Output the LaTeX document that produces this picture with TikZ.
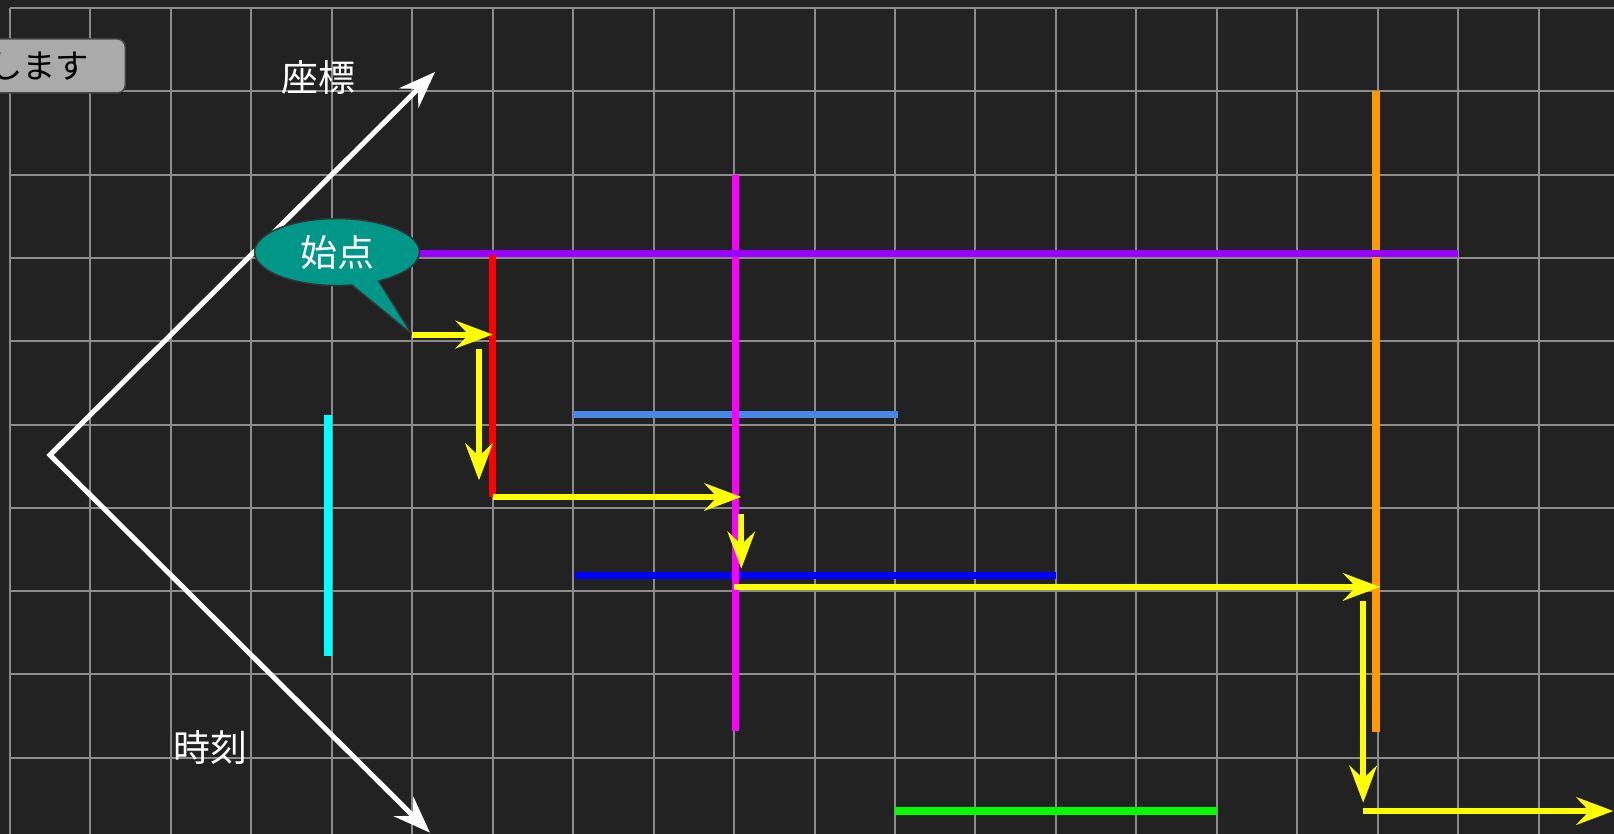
\documentclass[tikz,border=0pt]{standalone}
\usepackage{fontspec}
\newfontfamily\jpfont{Noto Sans CJK JP}
\usetikzlibrary{arrows.meta,shapes.callouts}

\definecolor{bg}{HTML}{222222}
\definecolor{gridgray}{HTML}{8C8C8C}
\definecolor{barpurple}{HTML}{9900FF}
\definecolor{barmagenta}{HTML}{FF00FF}
\definecolor{barorange}{HTML}{FF9900}
\definecolor{barred}{HTML}{FF0000}
\definecolor{barlightblue}{HTML}{4A86E8}
\definecolor{barblue}{HTML}{0000FF}
\definecolor{barcyan}{HTML}{00FFFF}
\definecolor{bargreen}{HTML}{00FF00}
\definecolor{walkyellow}{HTML}{FFFF00}
\definecolor{bubbleteal}{HTML}{009688}
\definecolor{bubbleedge}{HTML}{333333}
\definecolor{btngray}{HTML}{AAAAAA}
\definecolor{btnedge}{HTML}{444444}

\begin{document}
\begin{tikzpicture}[x=1.609cm, y=-1.666cm,
    >={Stealth[length=0.74cm, width=0.55cm, inset=0.26cm]},
    gridline/.style={draw=gridgray, line width=0.04cm},
    bar/.style={line width=0.15cm},
    walk/.style={->, walkyellow, line width=0.12cm},
    axis/.style={<->, white, line width=0.1cm},
    jplabel/.style={font=\jpfont\fontsize{21}{25}\selectfont, text=white},
    button/.style={fill=btngray, draw=btnedge, line width=0.03cm, rounded corners=0.16cm,
      font=\jpfont\fontsize{19}{23}\selectfont, text=black,
      minimum height=1.08cm, inner xsep=0.72cm, inner ysep=0pt}]

    \path[use as bounding box, fill=bg] (-0.1243,-0.096) rectangle (19.938,9.916);
    \clip (-0.1243,-0.096) rectangle (19.938,9.916);

    % grid
    \foreach \i in {0,...,19}
      \draw[gridline] (\i,0) -- (\i,10);
    \foreach \j in {0,...,9}
      \draw[gridline] (0,\j) -- (20,\j);

    % coloured bars
    \draw[bar, barlightblue] (7,4.88) -- (11.04,4.88);
    \draw[bar, barblue] (7.02,6.81) -- (13,6.81);
    \draw[bar, barmagenta] (9.02,2) -- (9.02,8.68);
    \draw[bar, barorange] (16.98,1) -- (16.98,8.69);
    \draw[bar, barpurple] (5,2.95) -- (18,2.95);
    \draw[bar, barred] (6,2.97) -- (6,5.87);
    \draw[bar, barcyan] (3.95,4.89) -- (3.95,7.78);
    \draw[bar, bargreen] (11,9.64) -- (15,9.64);

    % axes
    \coordinate (origin) at (0.497,5.366);
    \coordinate (posend) at (5.283,0.768);
    \coordinate (timeend) at (5.22,9.90);
    \draw[axis] (posend) -- (origin) -- (timeend);
    \node[jplabel] (poslabel) at (3.83,0.84) {座標};
    \node[jplabel] (timelabel) at (2.49,8.88) {時刻};

    % route points
    \coordinate (p1) at (5,3.92);
    \coordinate (p2) at (6,3.92);
    \coordinate (p3) at (5.83,4.09);
    \coordinate (p4) at (5.83,5.67);
    \coordinate (p5) at (6,5.87);
    \coordinate (p6) at (9.09,5.87);
    \coordinate (p7) at (9.09,6.07);
    \coordinate (p8) at (9.09,6.73);
    \coordinate (p9) at (9,6.95);
    \coordinate (p10) at (17.03,6.95);
    \coordinate (p11) at (16.82,7.12);
    \coordinate (p12) at (16.82,9.54);
    \coordinate (p13) at (16.82,9.64);
    \coordinate (p14) at (19.93,9.64);

    \node[ellipse callout, callout absolute pointer={(p1)}, callout pointer arc=20,
      fill=bubbleteal, draw=bubbleedge, line width=0.03cm,
      minimum width=3.3cm, minimum height=1.34cm, inner sep=0pt, jplabel] (start) at (4.065,2.93) {始点};

    \node[button, anchor=east] (play) at (1.442,0.696) {します};

    % route
    \draw[walk] (p1) -- (p2);
    \draw[walk] (p3) -- (p4);
    \draw[walk] (p5) -- (p6);
    \draw[walk] (p7) -- (p8);
    \draw[walk] (p9) -- (p10);
    \draw[walk] (p11) -- (p12);
    \draw[walk] (p13) -- (p14);
\end{tikzpicture}
\end{document}
